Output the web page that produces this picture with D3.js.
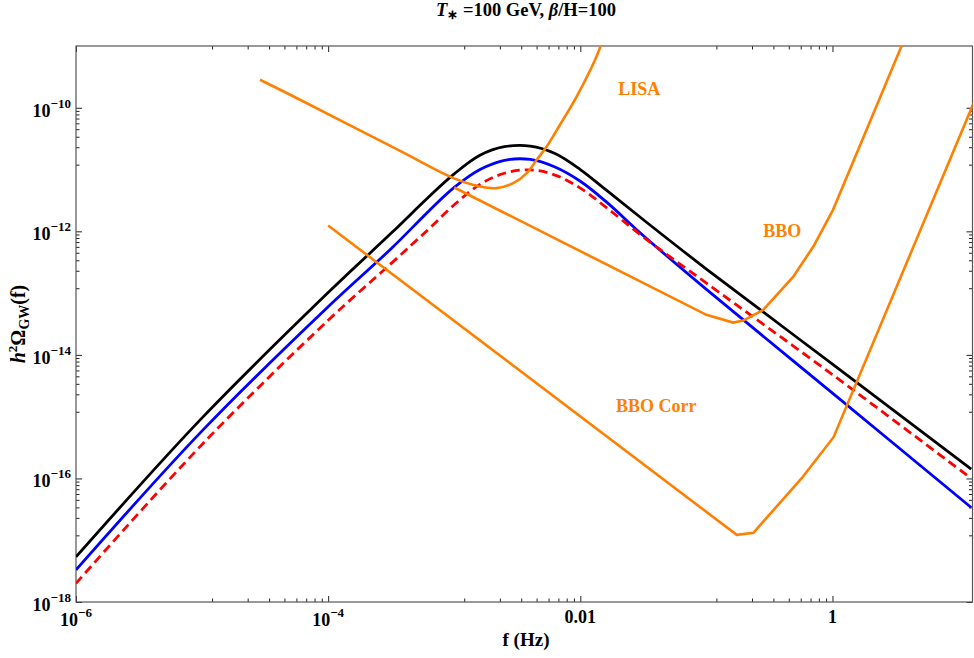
<!DOCTYPE html>
<html>
<head>
<meta charset="utf-8">
<script src="https://cdn.jsdelivr.net/npm/d3@7"></script>
<style>
body { margin: 0; background: #fff; }
text { font-family: "Liberation Serif", "Times New Roman", serif; font-weight: bold; }
</style>
</head>
<body>
<svg id="chart" width="974" height="658"></svg>
<script>
// frequency grid (Hz) used for the three spectra
var freq = [1e-6, 1e-5, 1e-4, 3.2e-4, 6.3e-4, 1e-3, 1.6e-3, 2.5e-3, 4e-3, 6.3e-3, 0.01, 0.016, 0.032, 0.1, 1, 12.6]
// h^2 Omega_GW
var omegaBlack = [5.37e-18, 9.55e-16, 1.02e-13, 9.55e-13, 3.63e-12, 8.51e-12, 1.70e-11, 2.34e-11, 2.40e-11, 1.82e-11, 1.00e-11, 4.68e-12, 1.51e-12, 2.45e-13, 7.08e-15, 1.41e-16]
var omegaBlue  = [3.31e-18, 5.89e-16, 6.03e-14, 5.37e-13, 2.14e-12, 5.13e-12, 1.00e-11, 1.41e-11, 1.46e-11, 1.10e-11, 6.46e-12, 3.02e-12, 8.32e-13, 1.15e-13, 2.40e-15, 3.39e-17]
var omegaRed   = [2.00e-18, 3.55e-16, 3.63e-14, 3.09e-13, 1.10e-12, 2.69e-12, 5.75e-12, 8.71e-12, 9.89e-12, 8.13e-12, 5.01e-12, 2.45e-12, 7.94e-13, 1.45e-13, 4.79e-15, 1.00e-16]

// detector sensitivity curves
var lisaF = [2.88e-5, 5.98e-5, 3.72e-4, 9.84e-4, 1.60e-3, 2.17e-3, 2.94e-3, 3.76e-3, 4.51e-3, 5.41e-3, 6.90e-3, 9.35e-3, 1.31e-2, 1.51e-2]
var lisaO = [2.84e-10, 1.35e-10, 2.0e-11, 7.26e-12, 5.32e-12, 5.01e-12, 6.03e-12, 8.77e-12, 1.44e-11, 2.36e-11, 5.31e-11, 1.52e-10, 5.98e-10, 1.26e-9]
var bboF = [1.0e-3, 0.100, 0.163, 0.196, 0.282, 0.489, 0.705, 1.01, 2.38, 3.70]
var bboO = [5.12e-12, 4.45e-14, 3.33e-14, 3.59e-14, 5.36e-14, 1.85e-13, 5.68e-13, 2.23e-12, 1.45e-10, 1.26e-9]
var corrF = [1.0e-4, 0.174, 0.236, 0.570, 1.02, 12.8, 14.8]
var corrO = [1.24e-12, 1.22e-17, 1.32e-17, 1.01e-16, 4.65e-16, 1.04e-10, 2.1e-10]

var detectorLabels = ["LISA", "BBO", "BBO Corr"]
var labelF = [0.0294, 0.40, 0.040]
var labelO = [1.62e-10, 8.1e-13, 1.2e-15]

// ticks
var xTickVals = [1e-6, 1e-4, 0.01, 1]
var xTickBase = ["10", "10", "0.01", "1"]
var xTickExp  = ["\u22126", "\u22124", "", ""]
var yTickVals = [1e-18, 1e-16, 1e-14, 1e-12, 1e-10]
var yTickExp  = ["\u221218", "\u221216", "\u221214", "\u221212", "\u221210"]

var svg = d3.select("#chart")
var plotL = 76, plotR = 972.5, plotT = 46, plotB = 602

var x = d3.scaleLog().domain([1e-6, 12.9]).range([plotL, plotR])
var y = d3.scaleLog().domain([1e-18, 1e-9]).range([plotB, plotT])

// minor ticks: linear steps between labelled majors (Mathematica style)
function minorTicks(majors, lo, hi) {
    var out = []
    for (var i = 0; i < majors.length - 1; i++) {
        var a = majors[i], b = majors[i + 1]
        for (var j = 1; j < 9; j++) {
            var v = a + j * (b - a) / 9
            if (v > lo && v < hi) out.push(v)
        }
    }
    return out
}
var xMinor = minorTicks(xTickVals, 1e-6, 12.9)
var yMinor = minorTicks(yTickVals, 1e-18, 1e-9)

function tickAxis(axisFn, scale, vals, size, transform) {
    var g = svg.append("g").attr("transform", transform)
        .call(axisFn(scale).tickValues(vals).tickSize(size).tickFormat(""))
    g.select(".domain").remove()
    g.selectAll("line").attr("stroke", "#222").attr("stroke-width", 1)
}
tickAxis(d3.axisBottom, x, xTickVals, -6, "translate(0," + plotB + ")")
tickAxis(d3.axisBottom, x, xMinor, -3.5, "translate(0," + plotB + ")")
tickAxis(d3.axisTop, x, xTickVals, -6, "translate(0," + plotT + ")")
tickAxis(d3.axisTop, x, xMinor, -3.5, "translate(0," + plotT + ")")
tickAxis(d3.axisLeft, y, yTickVals, -6, "translate(" + plotL + ",0)")
tickAxis(d3.axisLeft, y, yMinor, -3.5, "translate(" + plotL + ",0)")
tickAxis(d3.axisRight, y, yTickVals, -6, "translate(" + plotR + ",0)")
tickAxis(d3.axisRight, y, yMinor, -3.5, "translate(" + plotR + ",0)")

// frame
svg.append("rect")
    .attr("x", plotL).attr("y", plotT)
    .attr("width", plotR - plotL).attr("height", plotB - plotT)
    .attr("fill", "none").attr("stroke", "#555").attr("stroke-width", 1.2)

// tick labels
xTickVals.forEach(function (v, i) {
    var t = svg.append("text")
        .attr("x", x(v))
        .attr("y", xTickExp[i] ? 626 : 623)
        .attr("text-anchor", "middle")
        .style("font-size", "18px")
    t.append("tspan").text(xTickBase[i])
    if (xTickExp[i]) t.append("tspan").attr("dy", -9).style("font-size", "13px").text(xTickExp[i])
})
yTickVals.forEach(function (v, i) {
    var t = svg.append("text")
        .attr("x", 71)
        .attr("y", y(v) + 9)
        .attr("text-anchor", "end")
        .style("font-size", "18px")
    t.append("tspan").text("10")
    t.append("tspan").attr("dy", -9).style("font-size", "13px").text(yTickExp[i])
})

// axis titles
svg.append("text")
    .attr("x", 526).attr("y", 646)
    .attr("text-anchor", "middle")
    .style("font-size", "19px")
    .text("f (Hz)")

var yl = svg.append("text")
    .attr("transform", "translate(25,324) rotate(-90)")
    .attr("text-anchor", "middle")
    .style("font-size", "20px")
yl.append("tspan").style("font-style", "italic").text("h")
yl.append("tspan").attr("dy", -8).style("font-size", "13px").text("2")
yl.append("tspan").attr("dy", 8).text("\u03A9")
yl.append("tspan").attr("dy", 4).style("font-size", "14px").text("GW")
yl.append("tspan").attr("dy", -4).text("(f)")

var title = svg.append("text")
    .attr("x", 526).attr("y", 16)
    .attr("text-anchor", "middle")
    .style("font-size", "18.5px")
title.append("tspan").style("font-style", "italic").text("T")
title.append("tspan").attr("dy", 3).style("font-size", "13px").text("\u2217")
title.append("tspan").attr("dy", -3).text(" =100 GeV, ")
title.append("tspan").style("font-style", "italic").text("\u03B2")
title.append("tspan").text("/H=100")

// curves
svg.append("clipPath").attr("id", "plotclip")
    .append("rect")
    .attr("x", plotL).attr("y", plotT)
    .attr("width", plotR - plotL).attr("height", plotB - plotT)

var plot = svg.append("g").attr("clip-path", "url(#plotclip)")

var smooth = d3.line()
    .x(function (d) { return x(d[0]) })
    .y(function (d) { return y(d[1]) })
    .curve(d3.curveCatmullRom.alpha(0.5))
var straight = d3.line()
    .x(function (d) { return x(d[0]) })
    .y(function (d) { return y(d[1]) })

function pairs(fs, os) { return fs.map(function (f, i) { return [f, os[i]] }) }

plot.append("path").datum(pairs(freq, omegaBlue))
    .attr("d", smooth).attr("fill", "none")
    .attr("stroke", "#0000ff").attr("stroke-width", 2.8)
plot.append("path").datum(pairs(freq, omegaBlack))
    .attr("d", smooth).attr("fill", "none")
    .attr("stroke", "#000").attr("stroke-width", 2.8)
plot.append("path").datum(pairs(freq, omegaRed))
    .attr("d", smooth).attr("fill", "none")
    .attr("stroke", "#ff0000").attr("stroke-width", 2.8)
    .attr("stroke-dasharray", "9,5")

var orange = "#ff8000"
plot.append("path").datum(pairs(lisaF, lisaO))
    .attr("d", smooth).attr("fill", "none")
    .attr("stroke", orange).attr("stroke-width", 2.6)
plot.append("path").datum(pairs(bboF, bboO))
    .attr("d", straight).attr("fill", "none")
    .attr("stroke", orange).attr("stroke-width", 2.6)
plot.append("path").datum(pairs(corrF, corrO))
    .attr("d", straight).attr("fill", "none")
    .attr("stroke", orange).attr("stroke-width", 2.6)

detectorLabels.forEach(function (s, i) {
    svg.append("text")
        .attr("x", x(labelF[i]))
        .attr("y", y(labelO[i]))
        .attr("text-anchor", "middle")
        .attr("fill", orange)
        .style("font-size", "18px")
        .text(s)
})
</script>
</body>
</html>
